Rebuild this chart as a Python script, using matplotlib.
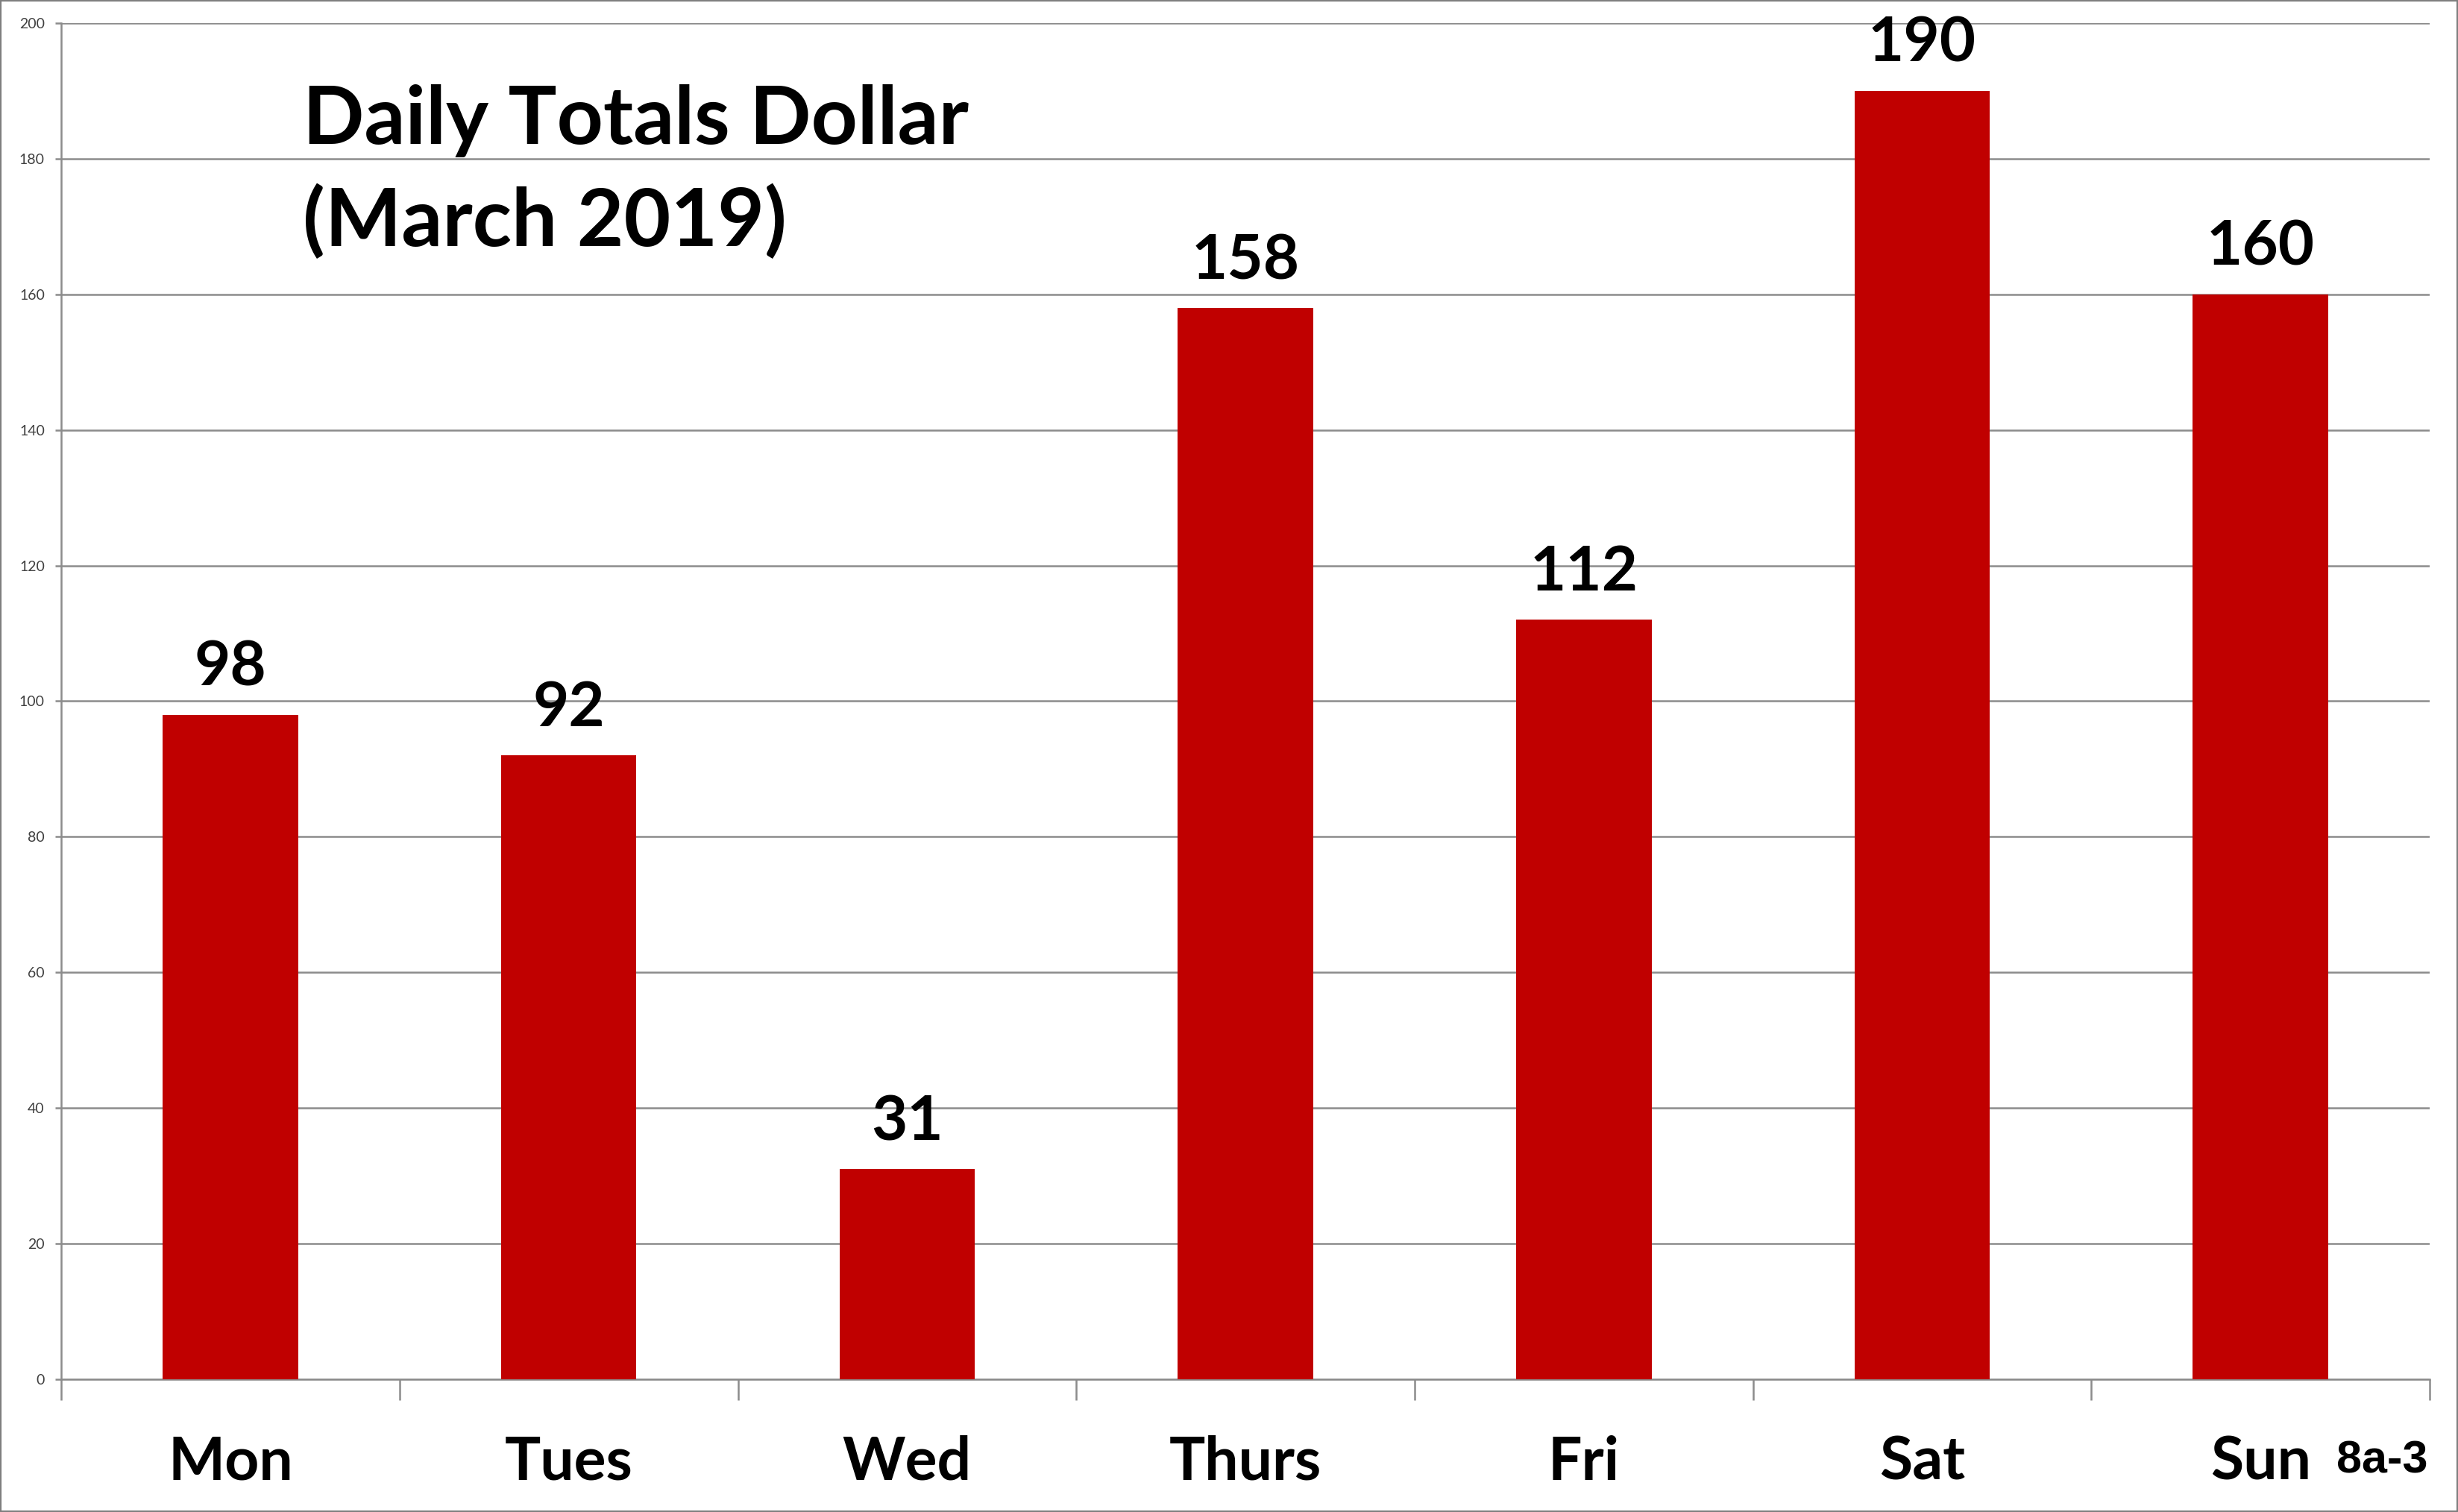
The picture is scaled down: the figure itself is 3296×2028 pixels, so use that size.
import matplotlib
matplotlib.use("Agg")
import matplotlib.pyplot as plt
from matplotlib.patches import Rectangle
import numpy as np

# Data
days = ["Mon", "Tues", "Wed", "Thurs", "Fri", "Sat", "Sun"]
totals = [98, 92, 31, 158, 112, 190, 160]
y_ticks = [0, 20, 40, 60, 80, 100, 120, 140, 160, 180, 200]
title_lines = ["Daily Totals Dollar", "(March 2019)"]

bar_color = "#C00000"
grid_color = "#8c8c8c"

plt.rcParams["font.family"] = ["Lato", "DejaVu Sans"]

fig = plt.figure(figsize=(16.48, 10.14), dpi=200)
ax = fig.add_axes([0.0249, 0.0878, 0.9636, 0.8969])

x = np.arange(len(days))
bars = ax.bar(x, totals, width=0.4, color=bar_color, zorder=3)

# value labels above each bar
for xi, val in zip(x, totals):
    ax.annotate(str(val), (xi, val), xytext=(0, 9), textcoords="offset points",
                ha="center", va="bottom", fontsize=30, fontweight="bold", color="black")

ax.set_xlim(-0.5, len(days) - 0.5)
ax.set_ylim(0, 200)

# y axis
ax.set_yticks(y_ticks)
ax.tick_params(axis="y", length=3, width=0.9, color=grid_color, labelsize=7,
               labelcolor="#404040", pad=5)
ax.yaxis.grid(True, color=grid_color, linewidth=0.9, zorder=0)

# x axis: labels at centres, tick marks between categories
ax.set_xticks(x)
ax.set_xticklabels(days, fontsize=29, fontweight="bold")
ax.set_xticks(np.arange(-0.5, len(days)), minor=True)
ax.tick_params(axis="x", which="major", length=0, pad=27)
ax.tick_params(axis="x", which="minor", length=10, width=0.9, color=grid_color)

for side in ["top", "right"]:
    ax.spines[side].set_visible(False)
for side in ["left", "bottom"]:
    ax.spines[side].set_color(grid_color)
    ax.spines[side].set_linewidth(0.9)

# title inside the plot area, one text per line
for line, base_y in zip(title_lines, [193, 330]):
    fig.text(406 / 3296, 1 - base_y / 2028, line, ha="left", va="baseline",
             fontsize=39, fontweight="bold")

fig.text(3133 / 3296, 1 - 1976 / 2028, "8a-3", ha="left", va="baseline",
         fontsize=22, fontweight="bold", family="Liberation Sans")

# outer frame
fig.add_artist(Rectangle((0, 0), 1, 1, transform=fig.transFigure, fill=False,
                         edgecolor="#7f7f7f", linewidth=1.5))

fig.savefig("out.png", dpi=200)
